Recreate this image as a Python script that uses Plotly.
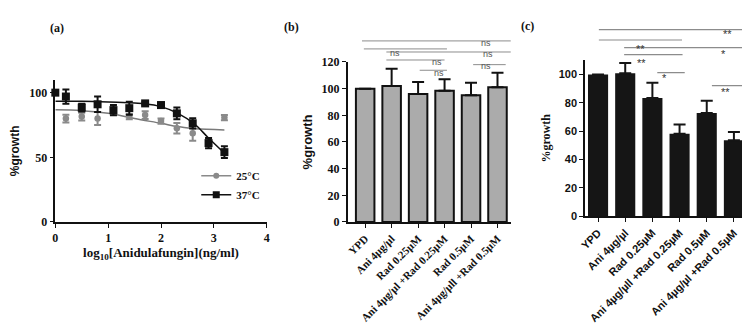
import plotly.graph_objects as go

# panel (a): dose response, log10 [Anidulafungin] (ng/ml)
dose_37 = [0, 0.2, 0.5, 0.8, 1.1, 1.4, 1.7, 2.0, 2.3, 2.6, 2.9, 3.2]
growth_37 = [100, 97, 88.5, 91, 86.5, 88, 91.7, 90.4, 84, 76.3, 61, 54]
err_37 = [1, 5.5, 3, 6, 4, 5, 1, 2, 4.5, 4, 4, 4.5]

dose_25 = [0.2, 0.5, 0.8, 1.1, 1.4, 1.7, 2.0, 2.3, 2.6, 3.2]
growth_25 = [80, 81.5, 80, 85, 81.5, 82.7, 78, 72.5, 68.6, 80.7]
err_25 = [3, 3, 5, 2, 2, 3, 2, 4, 5.8, 2]

fit_x_37 = [0, 0.5, 1, 1.5, 1.7, 2.0, 2.32, 2.64, 2.89, 3.2]
fit_y_37 = [93.4, 93.3, 92.8, 92, 91.5, 89.2, 84, 75.6, 65.3, 53.2]
fit_x_25 = [0, 0.5, 1, 1.19, 1.5, 2, 2.32, 2.64, 3.2]
fit_y_25 = [86.7, 86.1, 84, 82.7, 80, 76.3, 73.8, 72, 71.2]

# panel (b)
labels_b = ['YPD', 'Ani 4µg/µl', 'Rad 0.25µM', 'Ani 4µg/µl +Rad 0.25µM',
            'Rad 0.5µM', 'Ani 4µg/µll +Rad 0.5µM']
growth_b = [100, 102, 96, 98.5, 95, 101]
err_b = [0, 13, 9, 8.5, 9.5, 11]
# (from, to, height) and ns labels (x, y)
brackets_b = [(-0.12, 5.61, 135.8), (-0.05, 3.09, 129.8), (0.8, 5.55, 127.5),
              (0.8, 3.0, 121.5), (2.06, 3.09, 113.8), (4.08, 5.31, 118)]
marks_b = [(4.55, 139.8, 'ns'), (1.14, 131.8, 'ns'), (4.64, 131, 'ns'),
           (2.71, 125, 'ns'), (2.78, 117.2, 'ns'), (4.55, 122.3, 'ns')]

# panel (c)
labels_c = ['YPD', 'Ani 4µg/µl', 'Rad 0.25µM', 'Ani 4µg/µll +Rad 0.25µM',
            'Rad 0.5µM', 'Ani 4µg/µl +Rad 0.5µM']
growth_c = [100, 101, 83.5, 58.3, 72.9, 53.6]
err_c = [0, 7.2, 10.8, 6.4, 8.7, 5.9]
brackets_c = [(0.03, 5.63, 131.7), (0.03, 3.09, 124.4), (0.96, 5.63, 119),
              (0.96, 3.11, 114), (2.18, 3.19, 101.3), (4.19, 5.39, 92.2)]
marks_c = [(4.75, 134.5, '**'), (1.57, 124, '**'), (4.63, 120.5, '*'),
           (1.59, 113.7, '**'), (2.45, 103.5, '*'), (4.68, 93, '**')]

SERIF = 'Liberation Serif, Times New Roman, serif'
SANS = 'Liberation Sans, Arial, sans-serif'

A_X, A_Y, A_RX, A_RY = [0.0631, 0.3449], [0.3436, 0.78], [0, 4], [0, 110]
B_X, B_Y, B_RX, B_RY = [0.4533, 0.6703], [0.3436, 0.8344], [-0.65, 5.5], [0, 120]
C_X, C_Y, C_RX, C_RY = [0.7697, 0.9889], [0.361, 0.8393], [-0.47, 5.58], [0, 110]


def ypaper(v, dom, rng):
    return dom[0] + (v - rng[0]) / (rng[1] - rng[0]) * (dom[1] - dom[0])


fig = go.Figure()

# --- (a)
fig.add_trace(go.Scatter(x=fit_x_25, y=fit_y_25, mode='lines', line=dict(color='#7a7a7a', width=1.5, shape='spline'),
                         showlegend=False, xaxis='x', yaxis='y'))
fig.add_trace(go.Scatter(x=fit_x_37, y=fit_y_37, mode='lines', line=dict(color='#111111', width=1.5, shape='spline'),
                         showlegend=False, xaxis='x', yaxis='y'))
fig.add_trace(go.Scatter(x=dose_25, y=growth_25, mode='markers', cliponaxis=False,
                         marker=dict(color='#8a8a8a', size=6.5, symbol='circle'),
                         error_y=dict(type='data', array=err_25, color='#8a8a8a', thickness=2, width=3.5),
                         showlegend=False, xaxis='x', yaxis='y'))
fig.add_trace(go.Scatter(x=dose_37, y=growth_37, mode='markers', cliponaxis=False,
                         marker=dict(color='#111111', size=8, symbol='square'),
                         error_y=dict(type='data', array=err_37, color='#111111', thickness=2, width=3.5),
                         showlegend=False, xaxis='x', yaxis='y'))
fig.add_trace(go.Scatter(x=[None], y=[None], mode='lines+markers', name='25°C',
                         line=dict(color='#8a8a8a', width=1.5), marker=dict(color='#8a8a8a', size=6, symbol='circle'),
                         xaxis='x', yaxis='y'))
fig.add_trace(go.Scatter(x=[None], y=[None], mode='lines+markers', name='37°C',
                         line=dict(color='#111111', width=1.5), marker=dict(color='#111111', size=7, symbol='square'),
                         xaxis='x', yaxis='y'))

# --- (b)
fig.add_trace(go.Bar(x=list(range(6)), y=growth_b, width=0.7, marker=dict(color='#ababab', line=dict(color='#111111', width=2)),
                     error_y=dict(type='data', symmetric=False, array=err_b, arrayminus=[0] * 6,
                                  color='#111111', thickness=2, width=6),
                     showlegend=False, xaxis='x2', yaxis='y2'))
# --- (c)
fig.add_trace(go.Bar(x=list(range(6)), y=growth_c, width=0.74, marker=dict(color='#151515', line=dict(color='#151515', width=0)),
                     error_y=dict(type='data', symmetric=False, array=err_c, arrayminus=[0] * 6,
                                  color='#151515', thickness=2, width=6),
                     showlegend=False, xaxis='x3', yaxis='y3'))

shapes = []
annos = []
for x0, x1, h in brackets_b:
    yp = ypaper(h, B_Y, B_RY)
    shapes.append(dict(type='line', xref='x2', yref='paper', x0=x0, x1=x1, y0=yp, y1=yp,
                       line=dict(color='#8c8c8c', width=1)))
for x, y, t in marks_b:
    annos.append(dict(xref='x2', yref='paper', x=x, y=ypaper(y, B_Y, B_RY), text=t, showarrow=False,
                      font=dict(family=SANS, size=9, color='#555555')))
for x0, x1, h in brackets_c:
    yp = ypaper(h, C_Y, C_RY)
    shapes.append(dict(type='line', xref='x3', yref='paper', x0=x0, x1=x1, y0=yp, y1=yp,
                       line=dict(color='#8c8c8c', width=1.2)))
for x, y, t in marks_c:
    annos.append(dict(xref='x3', yref='paper', x=x, y=ypaper(y, C_Y, C_RY), text=t, showarrow=False,
                      font=dict(family=SANS, size=11, color='#333333')))

for t, x, y in [('(a)', 40 / 750, 1 - 11 / 326), ('(b)', 283 / 750, 1 - 10 / 326), ('(c)', 528 / 750, 1 - 9 / 326)]:
    annos.append(dict(xref='paper', yref='paper', x=x, y=y, text=t, showarrow=False,
                      font=dict(family=SERIF, size=12, color='#111111', weight='bold')))

axis_common = dict(showline=True, linecolor='#111111', ticks='outside', tickcolor='#111111',
                   showgrid=False, zeroline=False, automargin=False)

fig.update_layout(
    width=750, height=326, margin=dict(l=0, r=0, t=0, b=0),
    plot_bgcolor='white', paper_bgcolor='white',
    shapes=shapes, annotations=annos,
    legend=dict(x=0.251, y=0.53, xanchor='left', yanchor='top', bgcolor='rgba(0,0,0,0)',
                font=dict(family=SERIF, size=11, color='#111111', weight='bold'),
                tracegroupgap=0, itemwidth=30),
    xaxis=dict(domain=A_X, range=A_RX, anchor='y', tickvals=[0, 1, 2, 3, 4], linewidth=1.5, ticklen=4,
               tickfont=dict(family=SERIF, size=12, color='#111111', weight='bold'),
               title=dict(text='log<sub>10</sub>[Anidulafungin](ng/ml)', standoff=4,
                          font=dict(family=SERIF, size=13, color='#111111', weight='bold')),
               **axis_common),
    yaxis=dict(domain=A_Y, range=A_RY, anchor='x', tickvals=[0, 50, 100], linewidth=1.5, ticklen=4,
               tickfont=dict(family=SERIF, size=12, color='#111111', weight='bold'),
               title=dict(text='%growth', standoff=10,
                          font=dict(family=SANS, size=12, color='#111111', weight='bold')),
               **axis_common),
    xaxis2=dict(domain=B_X, range=B_RX, anchor='y2', tickvals=list(range(6)), ticktext=labels_b,
                tickangle=-45, linewidth=2, ticklen=4,
                tickfont=dict(family=SERIF, size=11, color='#111111', weight='bold'), **axis_common),
    yaxis2=dict(domain=B_Y, range=B_RY, anchor='x2', dtick=20, linewidth=2, ticklen=4,
                tickfont=dict(family=SERIF, size=12, color='#111111', weight='bold'),
                title=dict(text='%growth', standoff=6,
                           font=dict(family=SANS, size=13, color='#111111', weight='bold')),
                **axis_common),
    xaxis3=dict(domain=C_X, range=C_RX, anchor='y3', tickvals=list(range(6)), ticktext=labels_c,
                tickangle=-45, linewidth=2, ticklen=4,
                tickfont=dict(family=SANS, size=11, color='#111111', weight='bold'), **axis_common),
    yaxis3=dict(domain=C_Y, range=C_RY, anchor='x3', dtick=20, linewidth=2, ticklen=4,
                tickfont=dict(family=SANS, size=11, color='#111111', weight='bold'),
                title=dict(text='%growth', standoff=6,
                           font=dict(family=SERIF, size=12, color='#111111', weight='bold')),
                **axis_common),
)

fig.write_html("out.html")
